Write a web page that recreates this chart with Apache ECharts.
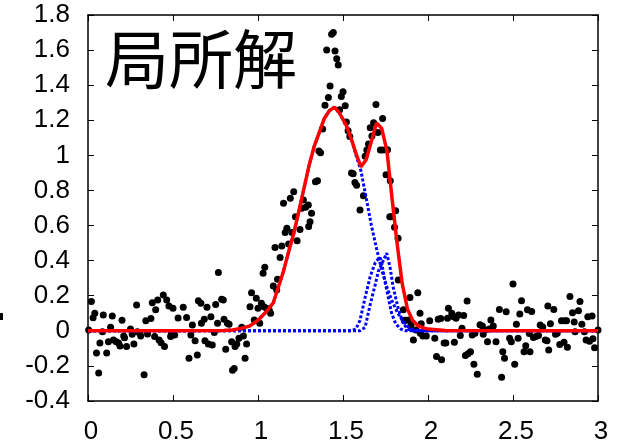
<!DOCTYPE html>
<html>
<head>
<meta charset="utf-8">
<script src="https://cdn.jsdelivr.net/npm/echarts@6/dist/echarts.min.js"></script>
<style>html,body{margin:0;padding:0;background:#fff}#c{width:628px;height:446px}</style>
</head>
<body>
<div id="c"></div>
<script>
// ---- data ----
const titleText = '局所解';
const xRange = [0, 3];
const yRange = [-0.4, 1.8];

// measured points [x, y]
const measured = [
[0.004,0.005],[0.02,0.167],[0.03,0.075],[0.04,0.10],[0.05,-0.127],[0.063,-0.24],[0.07,-0.07],[0.085,-0.005],[0.09,0.09],[0.11,-0.127],[0.12,-0.062],[0.133,0.02],[0.143,0.084],[0.15,-0.052],[0.166,-0.062],[0.18,-0.07],[0.188,-0.087],[0.20,0.06],[0.21,-0.03],[0.215,-0.04],[0.227,-0.09],[0.25,0.01],[0.26,-0.02],[0.27,-0.075],[0.286,0.147],[0.29,-0.005],[0.305,-0.015],[0.31,-0.03],[0.33,-0.25],[0.34,0.058],[0.35,-0.018],[0.37,0.07],[0.378,0.16],[0.392,-0.033],[0.398,0.12],[0.41,0.176],[0.418,-0.052],[0.43,-0.068],[0.443,0.204],[0.45,-0.09],[0.463,0.175],[0.476,0.141],[0.486,-0.033],[0.49,-0.018],[0.50,0.128],[0.51,-0.024],[0.53,0.073],
[0.56,0.135],[0.58,0.076],[0.594,-0.157],[0.605,-0.024],[0.614,0.033],[0.63,-0.056],[0.643,-0.138],[0.649,0.172],[0.664,0.157],[0.667,0.043],[0.684,0.066],[0.688,-0.056],[0.70,0.135],[0.708,-0.075],[0.723,0.08],[0.731,-0.081],[0.743,-0.01],[0.751,0.15],[0.762,0.043],[0.767,0.332],[0.786,0.18],[0.796,0.176],[0.80,0.066],[0.81,-0.105],[0.82,0.043],[0.83,0.038],[0.845,-0.062],[0.85,-0.225],[0.86,-0.215],[0.865,-0.09],[0.875,-0.075],[0.888,-0.043],[0.904,0.02],[0.914,-0.03],[0.924,-0.157],[0.933,-0.075],
[0.953,0.137],[0.962,0.217],[0.978,0.061],[0.99,0.186],[1.0,0.128],[1.01,0.043],[1.02,0.157],[1.03,0.328],[1.035,0.137],[1.04,0.362],[1.05,0.128],[1.066,0.118],[1.074,0.1],[1.09,0.255],[1.10,0.475],[1.11,0.233],[1.115,0.294],[1.13,0.418],[1.14,0.483],[1.15,0.727],[1.16,0.56],[1.17,0.585],[1.18,0.495],[1.19,0.755],[1.20,0.56],[1.21,0.793],[1.22,0.65],[1.23,0.513],[1.247,0.578],[1.257,0.698],[1.267,0.745],[1.28,0.704],[1.296,0.717],[1.298,0.594],[1.306,0.622],[1.315,0.67],[1.338,0.85],[1.35,0.855],[1.358,1.025],[1.368,1.015],[1.38,1.15],
[1.394,1.285],[1.404,1.60],[1.414,1.33],[1.424,1.395],[1.433,1.69],[1.443,1.70],[1.453,1.595],[1.463,1.55],[1.472,1.515],[1.48,1.26],[1.49,1.335],[1.50,1.363],[1.513,1.283],[1.52,1.19],[1.53,1.14],[1.54,1.107],[1.55,0.90],[1.56,0.895],[1.57,0.845],[1.58,0.83],[1.60,0.689],[1.62,0.77],[1.63,0.995],[1.64,1.03],[1.65,1.065],[1.66,1.158],[1.67,1.11],[1.68,1.186],[1.694,1.29],[1.705,1.13],[1.72,1.03],[1.737,1.03],[1.733,1.21],[1.753,0.89],[1.762,1.032],[1.778,0.855],[1.775,0.65],[1.785,0.65],[1.803,0.59],[1.81,0.685],[1.824,0.527],[1.825,0.29],
[1.855,0.12],[1.862,0.06],[1.875,0.06],[1.89,0.062],[1.894,0.19],[1.90,0.03],[1.914,-0.052],[1.93,0.005],[1.94,0.217],[1.953,0.1],[1.955,-0.014],[1.96,0.04],[1.97,-0.03],[1.99,-0.03],[2.01,0.057],[2.04,-0.043],[2.05,-0.147],[2.06,0.066],[2.075,0.07],[2.08,-0.165],[2.095,-0.07],[2.105,-0.07],[2.115,0.072],[2.12,0.128],[2.14,0.1],[2.15,0.08],[2.155,-0.065],[2.165,0.072],[2.18,0.09],[2.19,-0.027],[2.20,0.015],[2.21,0.087],[2.22,-0.14],[2.23,0.17],[2.235,-0.13],[2.25,-0.12],[2.26,-0.024],[2.27,-0.19],[2.276,-0.014],[2.29,-0.247],[2.306,0.035],[2.32,0.027],[2.325,-0.02],[2.335,0.005],[2.35,-0.062],[2.36,0.01],[2.37,0.062],[2.384,0.027],[2.40,-0.062],[2.42,0.122],[2.433,-0.265],[2.44,-0.12],[2.45,-0.157],[2.46,0.109],[2.48,-0.043],[2.49,-0.062],[2.50,0.267],[2.51,-0.19],[2.52,0.038],[2.53,-0.043],[2.54,0.096],[2.55,0.172],[2.565,-0.12],[2.575,-0.085],[2.585,0.12],[2.596,-0.015],[2.60,-0.12],[2.61,0.11],[2.62,-0.038],[2.635,-0.033],[2.65,-0.026],[2.66,0.033],[2.675,0.022],[2.69,-0.052],[2.70,-0.056],[2.705,0.141],[2.71,-0.11],[2.72,0.04],[2.74,0.122],[2.75,-0.02],[2.76,-0.014],[2.775,-0.078],[2.785,0.058],[2.80,-0.065],[2.805,0.058],[2.815,0.058],[2.82,-0.094],[2.835,0.195],[2.85,0.103],[2.86,0.05],[2.865,-0.005],[2.885,0.115],[2.894,0.167],[2.905,0.038],[2.92,-0.005],[2.93,-0.053],[2.94,0.08],[2.95,-0.06],[2.965,0.084],[2.97,-0.045],[2.98,-0.097],[3.0,0.005]
];

// fitted curve and its main component, sampled at curveX
const curveX   = [0, 0.5, 0.8, 0.85, 0.9, 0.95, 1.0, 1.05, 1.09, 1.12, 1.15, 1.18, 1.21, 1.24, 1.27, 1.30, 1.33, 1.36, 1.39, 1.42, 1.45, 1.48, 1.52, 1.55, 1.58, 1.606, 1.636, 1.667, 1.697, 1.727, 1.758, 1.788, 1.818, 1.848, 1.879, 1.909, 1.94, 1.97, 2.0, 2.1, 3.0];
const fitTotal = [0, 0, 0.002, 0.005, 0.014, 0.027, 0.06, 0.11, 0.16, 0.25, 0.34, 0.45, 0.555, 0.68, 0.81, 0.94, 1.05, 1.13, 1.21, 1.255, 1.275, 1.24, 1.17, 1.09, 1.0, 0.935, 0.975, 1.08, 1.185, 1.155, 1.03, 0.76, 0.50, 0.27, 0.125, 0.06, 0.03, 0.018, 0.01, 0.002, 0];
const peakMain = [0, 0, 0.002, 0.005, 0.014, 0.027, 0.06, 0.11, 0.16, 0.25, 0.34, 0.45, 0.555, 0.68, 0.81, 0.94, 1.05, 1.13, 1.21, 1.255, 1.275, 1.24, 1.17, 1.09, 0.99, 0.91, 0.76, 0.60, 0.47, 0.35, 0.25, 0.17, 0.11, 0.06, 0.025, 0.008, 0.002, 0, 0, 0, 0];

// two small components
const peakAX = [0, 1.55, 1.576, 1.60, 1.63, 1.66, 1.69, 1.717, 1.727, 1.747, 1.766, 1.786, 1.81, 1.84, 1.87, 3.0];
const peakAY = [0, 0, 0.01, 0.06, 0.19, 0.31, 0.39, 0.42, 0.39, 0.28, 0.19, 0.10, 0.04, 0.01, 0, 0];
const peakBX = [0, 1.60, 1.63, 1.66, 1.69, 1.708, 1.737, 1.757, 1.777, 1.795, 1.824, 1.853, 1.88, 1.91, 3.0];
const peakBY = [0, 0, 0.02, 0.15, 0.265, 0.34, 0.40, 0.443, 0.36, 0.25, 0.13, 0.045, 0.01, 0, 0];

// ---- chart ----
const zip = (xs, ys) => xs.map((x, i) => [x, ys[i]]);
const FONT = '"Liberation Sans", Arial, sans-serif';
const blueStyle = { color: '#0000ff', width: 3, type: [3, 2] };

function lineSeries(data, style, z) {
  return { type: 'line', data, showSymbol: false, symbol: 'none', smooth: false,
           lineStyle: style, z, animation: false, silent: true, clip: true };
}

const axisCommon = {
  type: 'value', min: xRange[0], max: xRange[1], interval: 0.5,
  axisLine: { show: true, onZero: false, lineStyle: { color: '#000', width: 1.5 } },
  axisTick: { show: true, inside: true, length: 6, lineStyle: { color: '#000', width: 1 } },
  splitLine: { show: false }
};
const yCommon = {
  type: 'value', min: yRange[0], max: yRange[1], interval: 0.2,
  axisLine: { show: true, onZero: false, lineStyle: { color: '#000', width: 1.5 } },
  axisTick: { show: true, inside: true, length: 6, lineStyle: { color: '#000', width: 1 } },
  splitLine: { show: false }
};

const chart = echarts.init(document.getElementById('c'), null, { renderer: 'canvas' });
chart.setOption({
  animation: false,
  backgroundColor: '#fff',
  title: {
    text: titleText, left: 100, top: 22,
    textStyle: { fontSize: 64, fontWeight: 'normal', color: '#000', fontFamily: '"Noto Sans CJK JP", sans-serif' }
  },
  graphic: [
    { type: 'rect', left: 0, top: 313, shape: { width: 3, height: 7 }, style: { fill: '#000' }, silent: true }
  ],
  grid: { left: 88, right: 30, top: 15, bottom: 45, containLabel: false },
  xAxis: [
    Object.assign({}, axisCommon, { position: 'bottom',
      axisLabel: { show: true, fontSize: 26, color: '#000', fontFamily: FONT, margin: 18, padding: [0, 0, 0, 6],
        formatter: v => String(Number(v.toFixed(1))) } }),
    Object.assign({}, axisCommon, { position: 'top', axisLabel: { show: false } })
  ],
  yAxis: [
    Object.assign({}, yCommon, { position: 'left',
      axisLabel: { show: true, fontSize: 26, color: '#000', fontFamily: FONT, margin: 18,
        formatter: v => String(Number(v.toFixed(1))) } }),
    Object.assign({}, yCommon, { position: 'right', axisLabel: { show: false } })
  ],
  series: [
    { type: 'scatter', data: measured, symbol: 'circle', symbolSize: 7,
      itemStyle: { color: '#000', opacity: 1 }, z: 2, animation: false, silent: true },
    lineSeries(zip(curveX, peakMain), blueStyle, 3),
    lineSeries(zip(peakAX, peakAY), blueStyle, 3),
    lineSeries(zip(peakBX, peakBY), blueStyle, 3),
    lineSeries(zip(curveX, fitTotal), { color: '#ff0000', width: 3.5 }, 4)
  ]
});
</script>
</body>
</html>
